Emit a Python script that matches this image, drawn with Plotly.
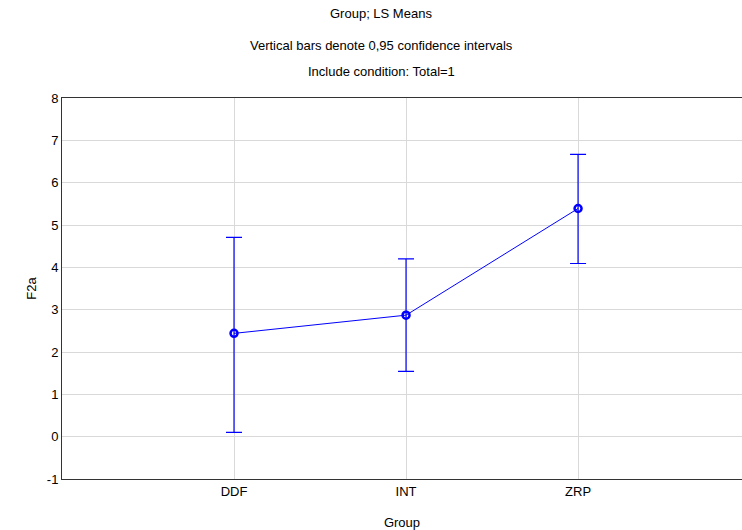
import plotly.graph_objects as go

groups = ["DDF", "INT", "ZRP"]
means = [2.44, 2.87, 5.39]
lower = [0.10, 1.54, 4.09]
upper = [4.71, 4.20, 6.67]
yticks = [-1, 0, 1, 2, 3, 4, 5, 6, 7, 8]
ytick_labels = ["-1", "0", "1", "2", "3", "4", "5", "6", "7", "8"]

xpos = list(range(len(groups)))
err_plus = [u - m for u, m in zip(upper, means)]
err_minus = [m - l for l, m in zip(lower, means)]

fig = go.Figure()
fig.add_trace(go.Scatter(
    x=xpos, y=means, mode="lines+markers",
    line=dict(color="#0000FF", width=1),
    marker=dict(size=7, color="#0000FF", symbol="circle-open", line=dict(width=2.5, color="#0000FF")),
    error_y=dict(type="data", symmetric=False, array=err_plus, arrayminus=err_minus,
                 color="#0000FF", thickness=1.2, width=8),
    showlegend=False,
))

font = "Liberation Sans, Arial, sans-serif"
fig.update_layout(
    width=742, height=530,
    margin=dict(l=62, r=0, t=98, b=51),
    paper_bgcolor="white", plot_bgcolor="white",
    font=dict(family=font, size=13, color="black"),
    xaxis=dict(range=[-1, 2.953], tickvals=xpos, ticktext=groups,
               showgrid=True, gridcolor="#d9d9d9", gridwidth=1,
               showline=True, linecolor="#333333", linewidth=1, mirror=True,
               ticks="", zeroline=False,
               title=dict(text="Group", font=dict(size=13), standoff=20)),
    yaxis=dict(range=[-1, 8], tickvals=yticks, ticktext=ytick_labels,
               showgrid=True, gridcolor="#d9d9d9", gridwidth=1,
               showline=True, linecolor="#333333", linewidth=1,
               ticks="", zeroline=False,
               title=dict(text="F2a", font=dict(size=13), standoff=7)),
)
# title lines positioned at pixel offsets, converted to paper coordinates
pw = 742 - 62 - 0
ph = 530 - 98 - 51
title_lines = [("Group; LS Means", 14), ("Vertical bars denote 0,95 confidence intervals", 45),
               ("Include condition: Total=1", 72)]
anns = []
for text, py in title_lines:
    anns.append(dict(text=text, xref="paper", yref="paper",
                     x=(381 - 62) / pw, y=(530 - 51 - py) / ph,
                     xanchor="center", yanchor="middle", showarrow=False,
                     font=dict(size=13, family=font, color="black")))
fig.update_layout(annotations=anns)

fig.write_html("out.html")
